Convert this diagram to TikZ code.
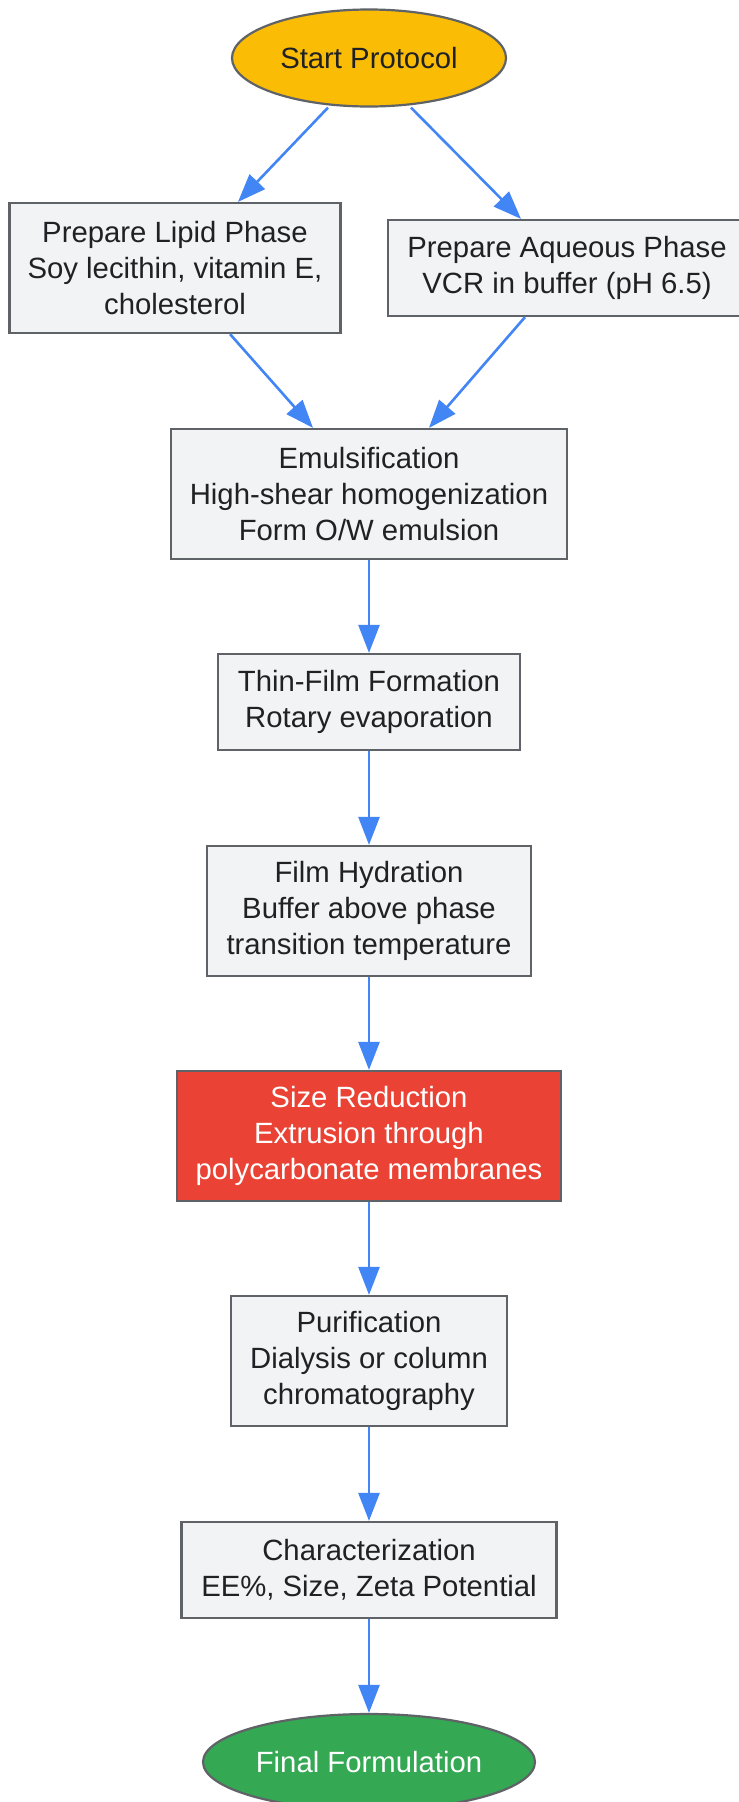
\documentclass[tikz,border=0pt]{standalone}
\usepackage{fontspec}
\setmainfont{Liberation Sans}
\usetikzlibrary{arrows.meta,shapes.geometric}
\definecolor{boxfill}{HTML}{F1F3F4}
\definecolor{boxline}{HTML}{5F6368}
\definecolor{flowblue}{HTML}{4285F4}
\definecolor{inktext}{HTML}{202124}
\definecolor{startyellow}{HTML}{FBBC05}
\definecolor{stepred}{HTML}{EA4335}
\definecolor{endgreen}{HTML}{34A853}
\tikzset{
	stepbox/.style={draw=boxline, line width=2.2pt, fill=boxfill, text=inktext, align=center, inner sep=0pt, font=\fontsize{29.3}{36}\selectfont},
	termnode/.style={ellipse, draw=boxline, line width=2.2pt, inner sep=0pt, font=\fontsize{29.3}{36}\selectfont},
	flow/.style={draw=flowblue, line width=2.6pt, -{Triangle[length=28pt,width=21pt]}}
}

\begin{document}
\begin{tikzpicture}[x=1pt,y=-1pt]
		%%%%% START %%%%%
		\useasboundingbox[fill=white] (0,0) rectangle (739,1802);
		
		\node[termnode, fill=startyellow, text=inktext, minimum width=274pt, minimum height=97pt] (start) at (369,58) {Start Protocol};
		
		\node[stepbox, minimum width=331pt, minimum height=130pt] (lipid) at (175,268) {Prepare Lipid Phase\\Soy lecithin, vitamin E,\\cholesterol};
		\node[stepbox, minimum width=358pt, minimum height=96pt] (aqueous) at (567,268) {Prepare Aqueous Phase\\VCR in buffer (pH 6.5)};
		
		\node[stepbox, minimum width=396pt, minimum height=130pt] (emul) at (369,494) {Emulsification\\High-shear homogenization\\Form O/W emulsion};
		\node[stepbox, minimum width=302pt, minimum height=96pt] (film) at (369,702) {Thin-Film Formation\\Rotary evaporation};
		\node[stepbox, minimum width=324pt, minimum height=130pt] (hydration) at (369,911) {Film Hydration\\Buffer above phase\\transition temperature};
		\node[stepbox, fill=stepred, text=white, minimum width=384pt, minimum height=130pt] (sizing) at (369,1136) {Size Reduction\\Extrusion through\\polycarbonate membranes};
		\node[stepbox, minimum width=276pt, minimum height=130pt] (purif) at (369,1361) {Purification\\Dialysis or column\\chromatography};
		\node[stepbox, minimum width=375pt, minimum height=96pt] (charact) at (369,1570) {Characterization\\EE\%, Size, Zeta Potential};
		
		\node[termnode, fill=endgreen, text=white, minimum width=332pt, minimum height=96pt] (final) at (369,1762) {Final Formulation};
		
		% split into the two phases
		\draw[flow] ([xshift=-41pt]start.south) -- ([xshift=63pt]lipid.north);
		\draw[flow] ([xshift=42pt]start.south) -- ([xshift=-46pt]aqueous.north);
		\draw[flow] ([xshift=55pt]lipid.south) -- ([xshift=-56pt]emul.north);
		\draw[flow] ([xshift=-42pt]aqueous.south) -- ([xshift=60pt]emul.north);
		
		% main line
		\draw[flow] (emul) -- (film);
		\draw[flow] (film) -- (hydration);
		\draw[flow] (hydration) -- (sizing);
		\draw[flow] (sizing) -- (purif);
		\draw[flow] (purif) -- (charact);
		\draw[flow] (charact) -- (final);
		
		%%%%% END %%%%%
	\end{tikzpicture}
\end{document}
